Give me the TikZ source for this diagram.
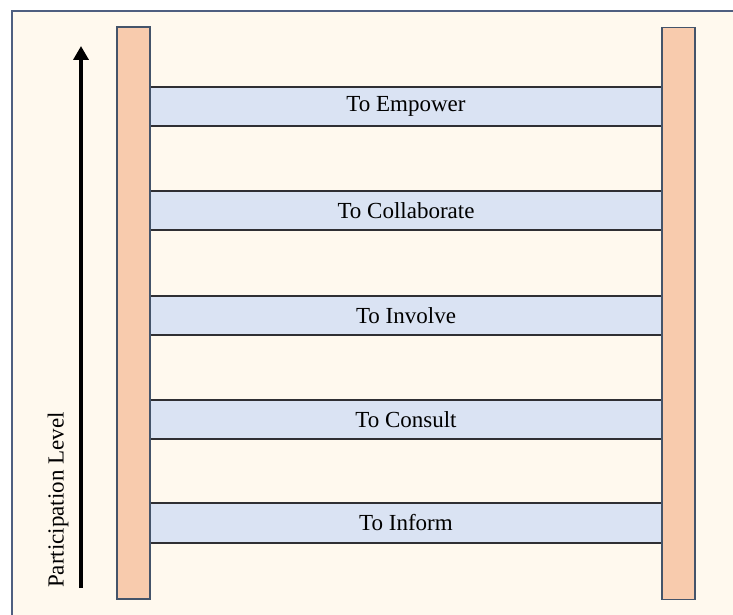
\documentclass[tikz,border=0pt]{standalone}
\usepackage{fontspec}
\setmainfont{Liberation Serif}
\usetikzlibrary{arrows.meta}
\definecolor{bgcream}{HTML}{FFF9EE}
\definecolor{frameblue}{HTML}{4F5F80}
\definecolor{railfill}{HTML}{F8CBAD}
\definecolor{railedge}{HTML}{44546A}
\definecolor{rungfill}{HTML}{DAE3F3}
\definecolor{rungedge}{HTML}{2F2F33}
\tikzset{
  rail/.style={draw=railedge, line width=1.6pt, fill=railfill, minimum width=33pt, minimum height=572pt, inner sep=0pt},
  txt/.style={font=\fontsize{23pt}{26pt}\selectfont},
  rung/.style={txt, fill=rungfill, minimum width=512pt, minimum height=39pt, inner sep=0pt},
  rungline/.style={draw=rungedge, line width=2.2pt},
  lvlarrow/.style={line width=4pt, -{Triangle[width=15pt,length=14pt]}}
}
\begin{document}
\begin{tikzpicture}[x=1pt,y=-1pt]
\useasboundingbox (0,0) rectangle (733,615);
\fill[white] (0,0) rectangle (733,615);
\draw[frameblue, line width=1.8pt, fill=bgcream] (12,11) rectangle (745,630);
% rungs
\node[rung] (r5) at (406,106.5) {To Empower};
\node[rung] (r4) at (406,210.5) {To Collaborate};
\node[rung] (r3) at (406,315.5) {To Involve};
\node[rung] (r2) at (406,419.5) {To Consult};
\node[rung] (r1) at (406,523) {To Inform};
\foreach \r in {r1,r2,r3,r4,r5}{
  \draw[rungline] (\r.north west) -- (\r.north east);
  \draw[rungline] (\r.south west) -- (\r.south east);
}
% rails
\node[rail] (lrail) at (133.5,313) {};
\node[rail] (rrail) at (678.5,313.5) {};
% arrow
\coordinate (abot) at (81,588);
\coordinate (atop) at (81,46);
\draw[lvlarrow] (abot) -- (atop);
\node[txt, rotate=90, anchor=west, inner sep=0pt] (lbl) at (58,588) {Participation Level};
\end{tikzpicture}
\end{document}
